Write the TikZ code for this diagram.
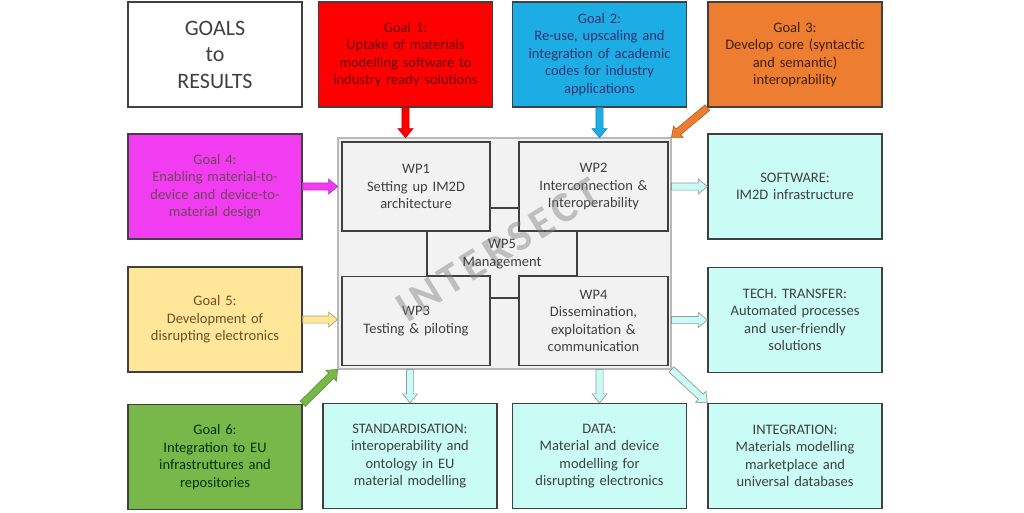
\documentclass[tikz,border=0pt]{standalone}
\usepackage{fontspec}
\setmainfont{Carlito}
\usepackage{tikz}
\usetikzlibrary{calc}

\definecolor{gred}{HTML}{FF0000}
\definecolor{gblue}{HTML}{1CADE4}
\definecolor{gorange}{HTML}{ED7D31}
\definecolor{gpink}{HTML}{F23CF2}
\definecolor{gsand}{HTML}{FFE699}
\definecolor{ggreen}{HTML}{78B84A}
\definecolor{rcyan}{HTML}{C9FCF4}
\definecolor{wpgrey}{HTML}{F2F2F2}
\definecolor{txtgrey}{HTML}{404040}

% block arrow from #1 to #2, filled #3, outlined #4
\newcommand\fatarrow[4]{%
  \coordinate (fa-s) at (#1);
  \coordinate (fa-e) at (#2);
  \coordinate (fa-h) at ($(fa-e)!9pt!(fa-s)$);
  \filldraw[fill=#3, draw=#4, line width=.7pt, line join=miter]
    ($(fa-s)!3.6pt!90:(fa-e)$) -- ($(fa-h)!3.6pt!-90:(fa-s)$) -- ($(fa-h)!7.5pt!-90:(fa-s)$)
    -- (fa-e) -- ($(fa-h)!7.5pt!90:(fa-s)$) -- ($(fa-h)!3.6pt!90:(fa-s)$)
    -- ($(fa-s)!3.6pt!-90:(fa-e)$) -- cycle;
}

\begin{document}
\begin{tikzpicture}[x=1pt,y=-1pt,
    box/.style={draw=txtgrey, line width=1.3pt, minimum width=174pt, minimum height=105pt,
      text width=168pt, align=center, inner sep=2pt, font=\fontsize{14.5}{17.5}\selectfont},
    goalbox/.style 2 args={box, fill=#1, text=#2},
    resbox/.style={box, fill=rcyan, text=txtgrey},
    wpbox/.style={draw=txtgrey, line width=1.5pt, fill=wpgrey, text=txtgrey, minimum height=89pt,
      text width=144pt, align=center, inner sep=2pt, font=\fontsize{14.5}{17.5}\selectfont}]
  \useasboundingbox[fill=white] (0,0) rectangle (1024,512);

  \node (title) at (215,54.5) [box, fill=white, text=txtgrey,
    font=\fontsize{22}{26.5}\selectfont] {GOALS\\to\\RESULTS};
  \node (g1) at (405.5,54.5) [goalbox={gred}{red!40!black}]
    {Goal 1:\\Uptake of materials\\modelling software to\\industry ready solutions};
  \node (g2) at (599.5,54.5) [goalbox={gblue}{blue!30!black!80}]
    {Goal 2:\\Re-use, upscaling and\\integration of academic\\codes for industry\\applications};
  \node (g3) at (795,54.5) [goalbox={gorange}{orange!25!black}]
    {Goal 3:\\Develop core (syntactic\\and semantic)\\interoprability};
  \node (g4) at (215,186.5) [goalbox={gpink}{magenta!35!black}]
    {Goal 4:\\Enabling material-to-\\device and device-to-\\material design};
  \node (g5) at (215,319.5) [goalbox={gsand}{brown!60!black}]
    {Goal 5:\\Development of\\disrupting electronics};
  \node (g6) at (215,457) [goalbox={ggreen}{green!20!black}]
    {Goal 6:\\Integration to EU\\infrastruttures and\\repositories};

  \node (sw) at (795,186.5) [resbox] {SOFTWARE:\\IM2D infrastructure};
  \node (tt) at (795,320) [resbox]
    {TECH. TRANSFER:\\Automated processes\\and user-friendly\\solutions};
  \node (std) at (410,456) [resbox]
    {STANDARDISATION:\\interoperability and\\ontology in EU\\material modelling};
  \node (data) at (599.5,456) [resbox]
    {DATA:\\Material and device\\modelling for\\disrupting electronics};
  \node (intg) at (795,456) [resbox]
    {INTEGRATION:\\Materials modelling\\marketplace and\\universal databases};

  \node (frame) at (504.5,253.5) [draw=black!80, double=gray!55, double distance=1.1pt,
    line width=.8pt, fill=wpgrey, minimum width=333pt, minimum height=231pt] {};
  \filldraw[fill=wpgrey, draw=txtgrey, line width=1.5pt]
    (427,231) -- (490,231) -- (490,208) -- (519,208) -- (519,231) -- (577,231)
    -- (577,276) -- (519,276) -- (519,298) -- (490,298) -- (490,276) -- (427,276) -- cycle;
  \node (wp1) at (416,186.5) [wpbox, minimum width=148pt] {WP1\\Setting up IM2D\\architecture};
  \node (wp2) at (593.5,186.5) [wpbox, minimum width=149pt] {WP2\\Interconnection \&\\Interoperability};
  \node (wp3) at (416,321) [wpbox, minimum width=148pt] {WP3\\Testing \& piloting};
  \node (wp4) at (593.5,321) [wpbox, minimum width=149pt]
    {WP4\\Dissemination,\\exploitation \&\\communication};
  \node (mark) at (498,250) [rotate=32, text=gray, opacity=.45,
    font=\fontsize{43}{46}\selectfont\bfseries\addfontfeature{LetterSpace=12}] {INTERSECT};
  \node (wp5) at (502,254) [text=txtgrey, align=center,
    font=\fontsize{14.5}{17.5}\selectfont] {WP5\\Management};

  \fatarrow{g1.south}{g1.south |- frame.north}{gred}{red!80!black}
  \fatarrow{g2.south}{g2.south |- frame.north}{gblue}{gblue!80!black}
  \fatarrow{g3.south west}{frame.north east}{gorange}{gorange!80!black}
  \fatarrow{g4.east}{g4.east -| frame.west}{gpink}{gpink!80!black}
  \fatarrow{g5.east}{g5.east -| frame.west}{gsand}{gsand!70!black}
  \fatarrow{g6.north east}{frame.south west}{ggreen}{ggreen!80!black}
  \fatarrow{frame.east |- sw.west}{sw.west}{rcyan}{black!40}
  \fatarrow{frame.east |- tt.west}{tt.west}{rcyan}{black!40}
  \fatarrow{std.north |- frame.south}{std.north}{rcyan}{black!40}
  \fatarrow{data.north |- frame.south}{data.north}{rcyan}{black!40}
  \fatarrow{frame.south east}{intg.north west}{rcyan}{black!40}
\end{tikzpicture}
\end{document}
